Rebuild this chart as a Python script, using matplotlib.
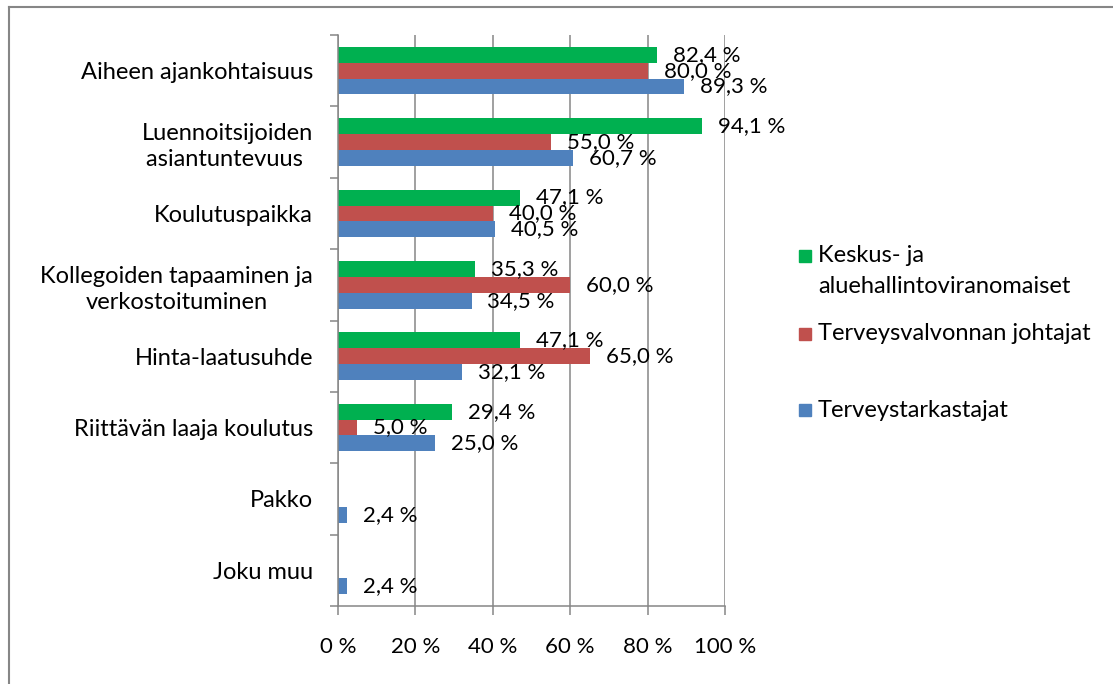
import matplotlib
matplotlib.use("Agg")
import matplotlib.pyplot as plt
import numpy as np
from matplotlib.lines import Line2D
from matplotlib.patches import Rectangle

plt.rcParams['font.family'] = ['Lato', 'DejaVu Sans']

categories = ["Aiheen ajankohtaisuus",
              "Luennoitsijoiden\nasiantuntevuus ",
              "Koulutuspaikka",
              "Kollegoiden tapaaminen ja\nverkostoituminen",
              "Hinta-laatusuhde",
              "Riittävän laaja koulutus",
              "Pakko",
              "Joku muu"]
series_names = ["Keskus- ja\naluehallintoviranomaiset",
                "Terveysvalvonnan johtajat",
                "Terveystarkastajat"]
keskus = [82.4, 94.1, 47.1, 35.3, 47.1, 29.4, 0, 0]
johtajat = [80.0, 55.0, 40.0, 60.0, 65.0, 5.0, 0, 0]
tarkastajat = [89.3, 60.7, 40.5, 34.5, 32.1, 25.0, 2.4, 2.4]
xticks = [0, 20, 40, 60, 80, 100]

colors = ['#00B050', '#C0504D', '#4F81BD']
grey = '#868686'
fs = 16
fs_cat = 17

fig = plt.figure(figsize=(11.13, 6.84), dpi=100)
ax = fig.add_axes([338 / 1113, 1 - 606 / 684, 387 / 1113, 571 / 684])

y = np.arange(len(categories))
h = 0.222
for k, vals in enumerate([keskus, johtajat, tarkastajat]):
    pos = y + (k - 1) * h
    ax.barh(pos, vals, height=h, color=colors[k], zorder=2)
    for p, v in zip(pos, vals):
        if v > 0:
            ax.annotate(f"{v:.1f}".replace('.', ',') + " %", (v, p),
                        xytext=(11.5, 0), textcoords='offset points',
                        va='center', ha='left', fontsize=fs, zorder=3)

ax.set_xlim(0, 100)
ax.set_ylim(len(categories) - 0.5, -0.5)
ax.set_xticks(xticks)
ax.set_xticklabels([f"{t} %" for t in xticks], fontsize=fs)
ax.set_yticks(y)
ax.set_yticklabels(categories, fontsize=fs_cat, linespacing=1.3)
for lbl in ax.get_yticklabels():
    lbl.set_multialignment('center')
ax.set_yticks(np.arange(len(categories) + 1) - 0.5, minor=True)
ax.tick_params(axis='y', which='major', length=0, pad=18)
ax.tick_params(axis='y', which='minor', length=6, color=grey, width=1.1)
ax.tick_params(axis='x', length=6.5, color=grey, width=1.1, pad=16)

ax.xaxis.grid(True, color=grey, linewidth=1.1, zorder=0)
ax.set_axisbelow(True)
for s in ['top', 'right']:
    ax.spines[s].set_visible(False)
for s in ['left', 'bottom']:
    ax.spines[s].set_color(grey)
    ax.spines[s].set_linewidth(1.1)

# legend drawn by hand, Excel style
leg_y = [256, 334, 410]
for k, name in enumerate(series_names):
    yy = leg_y[k]
    fig.add_artist(Rectangle((799 / 1113, 1 - (yy + 6) / 684), 12 / 1113, 12 / 684,
                             transform=fig.transFigure, color=colors[k]))
    for j, line in enumerate(name.split('\n')):
        fig.text(818 / 1113, 1 - (yy + j * 31) / 684, line, fontsize=fs_cat,
                 va='center', ha='left')

# chart frame
fig.add_artist(Line2D([9 / 1113, 9 / 1113], [0, 1 - 7 / 684], color=grey, lw=1.5))
fig.add_artist(Line2D([9 / 1113, 1], [1 - 7 / 684, 1 - 7 / 684], color=grey, lw=1.5))

plt.savefig('out.png', dpi=100)
plt.close()
